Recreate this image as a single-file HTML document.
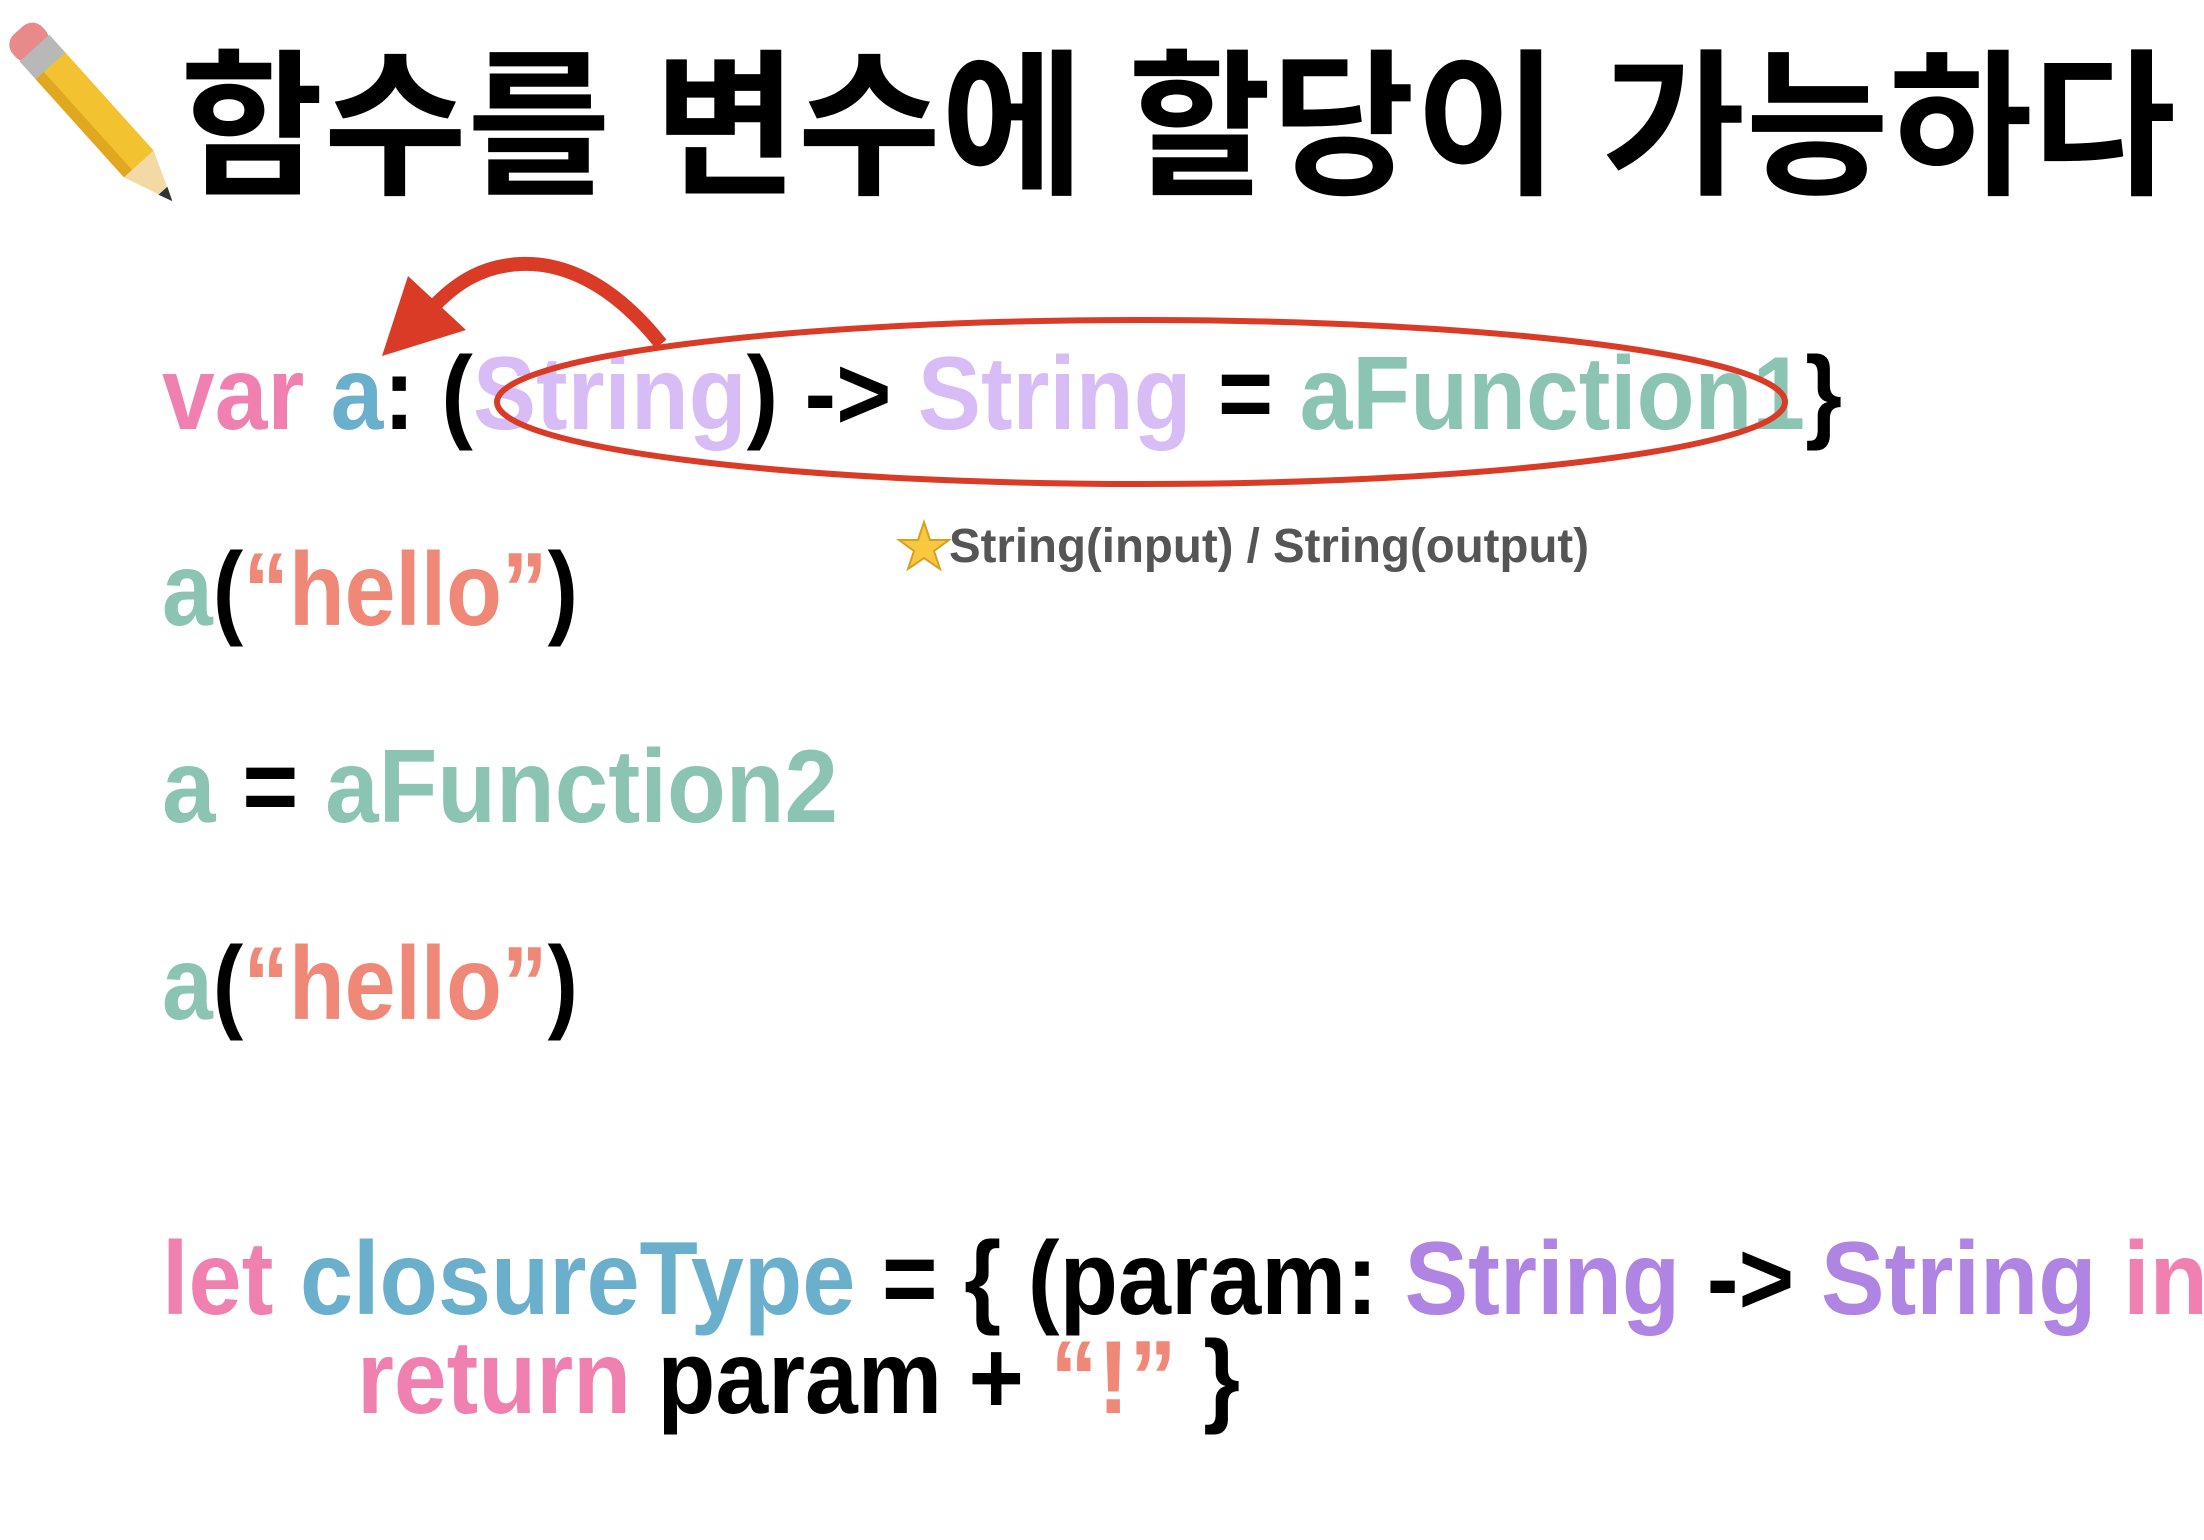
<!DOCTYPE html>
<html><head><meta charset="utf-8"><style>
html,body{margin:0;padding:0;background:#fff;}
svg{display:block}
text{font-family:"Liberation Sans","Noto Sans CJK KR",sans-serif;font-weight:bold}
</style></head><body>
<svg width="2204" height="1540" viewBox="0 0 2204 1540" xmlns="http://www.w3.org/2000/svg">
<rect width="2204" height="1540" fill="#fff"/>
<!-- pencil -->
<g transform="translate(92,112) rotate(-42)">
  <rect x="-20" y="-110" width="40" height="32" rx="14" fill="#e98a8a"/>
  <rect x="-20" y="-86" width="40" height="26" fill="#b8b8b8"/>
  <rect x="-20" y="-62" width="40" height="132" fill="#f2c230"/>
  <rect x="-20" y="-62" width="11" height="132" fill="#e0a820"/>
  <polygon points="-20,70 20,70 0,120" fill="#f3d9a4"/>
  <polygon points="-6,106 6,106 0,120" fill="#333"/>
</g>
<text x="180" y="182" font-size="158" textLength="1996" lengthAdjust="spacingAndGlyphs" fill="#000">함수를 변수에 할당이 가능하다</text>

<text x="162" y="429" font-size="104" textLength="1680" lengthAdjust="spacingAndGlyphs"><tspan fill="#f080b0">var </tspan><tspan fill="#6ab0cc">a</tspan><tspan fill="#000">: (</tspan><tspan fill="#d8bcf6">String</tspan><tspan fill="#000">) -&gt; </tspan><tspan fill="#d8bcf6">String</tspan><tspan fill="#000"> = </tspan><tspan fill="#8cc4b4">aFunction1</tspan><tspan fill="#000">}</tspan></text>

<ellipse cx="1141" cy="402" rx="644" ry="82" fill="none" stroke="#d93b26" stroke-width="6"/>
<path d="M661,344 C610,280 560,262 520,264 C480,266 455,285 436,304" fill="none" stroke="#d93b26" stroke-width="14"/>
<polygon points="382,356 408,276 466,330" fill="#d93b26"/>

<polygon points="924,522 930,540 949,540 934,551 940,569 924,558 908,569 914,551 899,540 918,540" fill="#f8c840" stroke="#d9a020" stroke-width="2"/>
<text x="949" y="562" font-size="48" textLength="640" lengthAdjust="spacingAndGlyphs" fill="#555">String(input) / String(output)</text>

<text x="162" y="625" font-size="104" textLength="416" lengthAdjust="spacingAndGlyphs"><tspan fill="#8cc4b4">a</tspan><tspan fill="#000">(</tspan><tspan fill="#f08878">“hello”</tspan><tspan fill="#000">)</tspan></text>
<text x="162" y="822" font-size="104" textLength="676" lengthAdjust="spacingAndGlyphs"><tspan fill="#8cc4b4">a</tspan><tspan fill="#000"> = </tspan><tspan fill="#8cc4b4">aFunction2</tspan></text>
<text x="162" y="1019" font-size="104" textLength="416" lengthAdjust="spacingAndGlyphs"><tspan fill="#8cc4b4">a</tspan><tspan fill="#000">(</tspan><tspan fill="#f08878">“hello”</tspan><tspan fill="#000">)</tspan></text>

<text x="162" y="1314" font-size="104" textLength="2046" lengthAdjust="spacingAndGlyphs"><tspan fill="#f080b0">let </tspan><tspan fill="#6ab0cc">closureType</tspan><tspan fill="#000"> = { (param: </tspan><tspan fill="#b084e2">String</tspan><tspan fill="#000"> -&gt; </tspan><tspan fill="#b084e2">String</tspan><tspan fill="#f080b0"> in</tspan></text>
<text x="357" y="1413" font-size="104" textLength="883" lengthAdjust="spacingAndGlyphs"><tspan fill="#f080b0">return </tspan><tspan fill="#000">param + </tspan><tspan fill="#f08878">“!”</tspan><tspan fill="#000"> }</tspan></text>
</svg>
</body></html>
